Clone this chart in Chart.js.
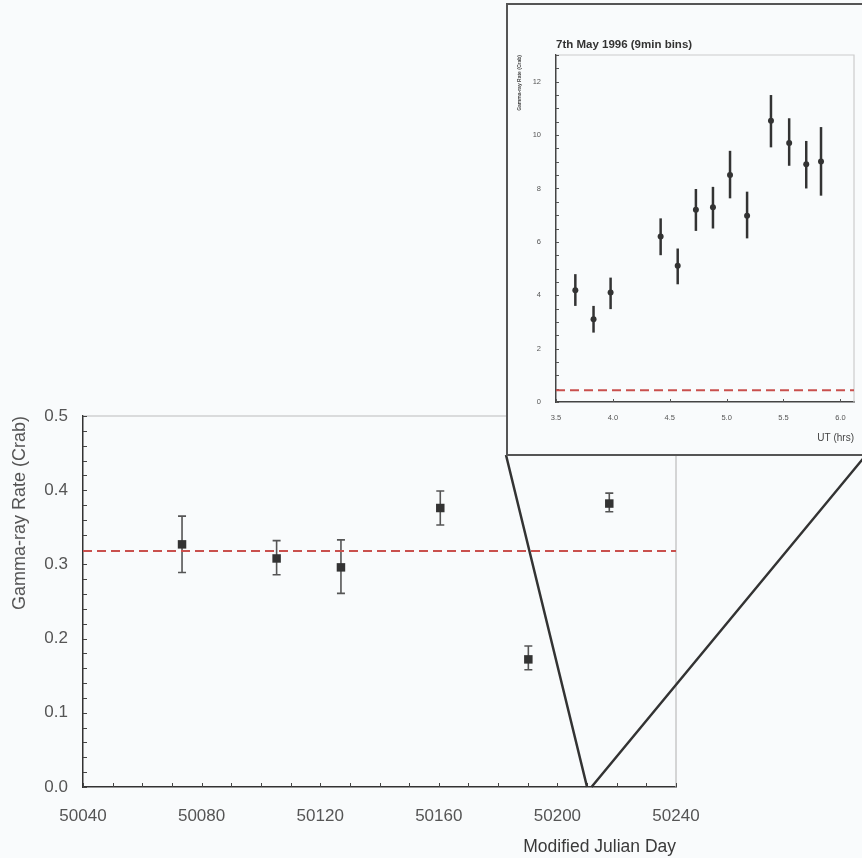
<!DOCTYPE html>
<html lang="en">
<head>
<meta charset="UTF-8">
<title>Gamma-ray Rate vs Modified Julian Day</title>
<style>
    html, body { margin: 0; padding: 0; width: 862px; height: 858px; overflow: hidden; background: #f9fbfc; }
    #main { position: absolute; left: 0; top: 0; }
    #inset {
        position: absolute; left: 506px; top: 3px;
        width: 360px; height: 453px;
        box-sizing: border-box;
        border: 2px solid #555;
        background: #f9fbfc;
    }
    #insetChart { position: absolute; left: 0; top: 0; }
</style>
<script src="https://cdn.jsdelivr.net/npm/chart.js"></script>
</head>
<body>
<canvas id="main" width="862" height="858"></canvas>
<div id="inset"><canvas id="insetChart" width="356" height="449"></canvas></div>
<script>
// main panel: nightly rates
const mjdDays    = [50073.4, 50105.3, 50127.0, 50160.5, 50190.2, 50217.5];
const mjdRates   = [0.327, 0.308, 0.296, 0.376, 0.172, 0.382];
const mjdErrHigh = [0.365, 0.332, 0.333, 0.399, 0.190, 0.396];
const mjdErrLow  = [0.289, 0.286, 0.261, 0.353, 0.158, 0.371];
const mainBaseline = 0.318;
const mainXTicks = [50040, 50080, 50120, 50160, 50200, 50240];
const mainYTicks = [0.0, 0.1, 0.2, 0.3, 0.4, 0.5];
const zoomDays = [50210.0, 50211.5];   // where the inset is pinned on the MJD axis

// inset: 7th May 1996, 9 min bins
const utHours   = [3.67, 3.83, 3.98, 4.42, 4.57, 4.73, 4.88, 5.03, 5.18, 5.39, 5.55, 5.70, 5.83];
const utRates   = [4.19, 3.10, 4.10, 6.20, 5.10, 7.20, 7.30, 8.50, 6.98, 10.54, 9.70, 8.91, 9.01];
const utErrHigh = [4.79, 3.60, 4.66, 6.88, 5.75, 7.98, 8.06, 9.41, 7.88, 11.50, 10.63, 9.78, 10.30];
const utErrLow  = [3.60, 2.60, 3.48, 5.50, 4.41, 6.41, 6.50, 7.63, 6.13, 9.54, 8.85, 8.00, 7.73];
const insetBaseline = 0.44;
const insetXTicks = [3.5, 4.0, 4.5, 5.0, 5.5, 6.0];
const insetYTicks = [0, 2, 4, 6, 8, 10, 12];

Chart.defaults.font.family = '"Liberation Sans", Arial, sans-serif';
Chart.defaults.animation = false;

function toPoints(xs, ys) {
    return xs.map((x, i) => ({ x: x, y: ys[i] }));
}

function fixedTicks(values) {
    return scale => { scale.ticks = values.map(v => ({ value: v })); };
}

// vertical error bars, optional caps
function makeErrorBars(xs, lows, highs, style) {
    return {
        id: 'errorBars',
        beforeDatasetsDraw(chart) {
            const { ctx, scales: { x, y } } = chart;
            ctx.save();
            ctx.strokeStyle = style.color;
            ctx.lineWidth = style.width;
            xs.forEach((v, i) => {
                const px = x.getPixelForValue(v);
                const top = y.getPixelForValue(highs[i]);
                const bot = y.getPixelForValue(lows[i]);
                ctx.beginPath();
                ctx.moveTo(px, top);
                ctx.lineTo(px, bot);
                if (style.cap) {
                    ctx.moveTo(px - style.cap, top); ctx.lineTo(px + style.cap, top);
                    ctx.moveTo(px - style.cap, bot); ctx.lineTo(px + style.cap, bot);
                }
                ctx.stroke();
            });
            ctx.restore();
        }
    };
}

// light top/right frame and small inward ticks
function makeFrame(style) {
    return {
        id: 'frame',
        beforeDatasetsDraw(chart) {
            const { ctx, chartArea: a, scales: { x, y } } = chart;
            ctx.save();
            ctx.strokeStyle = style.frameColor;
            ctx.lineWidth = 1.2;
            ctx.beginPath();
            ctx.moveTo(a.left, a.top); ctx.lineTo(a.right, a.top); ctx.lineTo(a.right, a.bottom);
            ctx.stroke();

            ctx.strokeStyle = style.tickColor;
            ctx.lineWidth = 1;
            ctx.beginPath();
            for (let v = y.min; v <= y.max + 1e-9; v += style.stepY) {
                const py = Math.round(y.getPixelForValue(v)) + 0.5;
                ctx.moveTo(a.left, py); ctx.lineTo(a.left + style.len, py);
            }
            for (let v = x.min; v <= x.max + 1e-9; v += style.stepX) {
                const px = Math.round(x.getPixelForValue(v)) + 0.5;
                ctx.moveTo(px, a.bottom); ctx.lineTo(px, a.bottom - style.len);
            }
            ctx.stroke();
            ctx.restore();
        }
    };
}

// the two lines joining the inset box to the zoomed day
const connectorPlugin = {
    id: 'connector',
    afterDraw(chart) {
        const { ctx, scales: { x, y } } = chart;
        const box = document.getElementById('inset');
        const boxLeft = box.offsetLeft;
        const boxRight = box.offsetLeft + box.offsetWidth;
        const boxBottom = box.offsetTop + box.offsetHeight - 1;
        const y0 = y.getPixelForValue(0);
        ctx.save();
        ctx.strokeStyle = '#333';
        ctx.lineWidth = 2.5;
        ctx.beginPath();
        ctx.moveTo(boxLeft, boxBottom);
        ctx.lineTo(x.getPixelForValue(zoomDays[0]), y0);
        ctx.moveTo(boxRight, boxBottom);
        ctx.lineTo(x.getPixelForValue(zoomDays[1]), y0);
        ctx.stroke();
        ctx.restore();
    }
};

// main chart
new Chart(document.getElementById('main'), {
    type: 'scatter',
    data: {
        datasets: [
            {
                data: toPoints(mjdDays, mjdRates),
                pointStyle: 'rect',
                pointRadius: 6,
                backgroundColor: '#333',
                borderColor: '#333',
                borderWidth: 0
            },
            {
                data: [{ x: mainXTicks[0], y: mainBaseline }, { x: mainXTicks[mainXTicks.length - 1], y: mainBaseline }],
                showLine: true,
                pointRadius: 0,
                borderColor: '#c9504d',
                borderWidth: 2,
                borderDash: [9, 5]
            }
        ]
    },
    options: {
        responsive: false,
        events: [],
        layout: { padding: { top: 416, right: 186, left: 0, bottom: 0 } },
        plugins: { legend: { display: false }, tooltip: { enabled: false } },
        scales: {
            x: {
                type: 'linear',
                min: 50040, max: 50240,
                afterBuildTicks: fixedTicks(mainXTicks),
                afterFit: s => { s.height = 71; },
                grid: { display: false, drawTicks: false },
                border: { color: '#333', width: 1.5 },
                ticks: { font: { size: 17 }, color: '#555', padding: 19, callback: v => String(v) },
                title: {
                    display: true, text: 'Modified Julian Day', align: 'end',
                    font: { size: 17.5 }, color: '#3a3a3a', padding: { top: 0, bottom: 0 }
                }
            },
            y: {
                min: 0, max: 0.5,
                afterBuildTicks: fixedTicks(mainYTicks),
                afterFit: s => { s.width = 83; },
                grid: { display: false, drawTicks: false },
                border: { color: '#333', width: 1.5 },
                ticks: { font: { size: 17 }, color: '#555', padding: 15, callback: v => v.toFixed(1) },
                title: {
                    display: true, text: 'Gamma-ray Rate (Crab)', align: 'end',
                    font: { size: 18 }, color: '#555', padding: { top: 9, bottom: 0 }
                }
            }
        }
    },
    plugins: [
        makeFrame({ frameColor: '#bbb', tickColor: '#444', stepX: 10, stepY: 0.02, len: 4 }),
        makeErrorBars(mjdDays, mjdErrLow, mjdErrHigh, { color: '#555', width: 1.6, cap: 4 }),
        connectorPlugin
    ]
});

// inset chart
new Chart(document.getElementById('insetChart'), {
    type: 'scatter',
    data: {
        datasets: [
            {
                data: toPoints(utHours, utRates),
                pointStyle: 'circle',
                pointRadius: 3,
                backgroundColor: '#333',
                borderWidth: 0
            },
            {
                data: [{ x: 3.5, y: insetBaseline }, { x: 6.12, y: insetBaseline }],
                showLine: true,
                pointRadius: 0,
                borderColor: '#c9504d',
                borderWidth: 2,
                borderDash: [9, 5]
            }
        ]
    },
    options: {
        responsive: false,
        events: [],
        layout: { padding: { top: 0, right: 10, left: 0, bottom: 0 } },
        plugins: {
            legend: { display: false },
            tooltip: { enabled: false },
            title: {
                display: true, text: '7th May 1996 (9min bins)', align: 'start', fullSize: false,
                font: { size: 11.5, weight: 'bold' }, color: '#333',
                padding: { top: 33.1, bottom: 3.1 }
            }
        },
        scales: {
            x: {
                type: 'linear',
                min: 3.5, max: 6.12,
                afterBuildTicks: fixedTicks(insetXTicks),
                afterFit: s => { s.height = 52; },
                grid: { display: false, drawTicks: false },
                border: { color: '#444', width: 1.5 },
                ticks: { font: { size: 7.5 }, color: '#555', padding: 11.5, callback: v => v.toFixed(1) },
                title: {
                    display: true, text: 'UT (hrs)', align: 'end',
                    font: { size: 10 }, color: '#444', padding: { top: 0, bottom: 10 }
                }
            },
            y: {
                min: 0, max: 13,
                afterBuildTicks: fixedTicks(insetYTicks),
                afterFit: s => { s.width = 48; },
                grid: { display: false, drawTicks: false },
                border: { color: '#444', width: 1.5 },
                ticks: { font: { size: 7.5 }, color: '#555', padding: 15 },
                title: {
                    display: true, text: 'Gamma-ray Rate (Crab)', align: 'end',
                    font: { size: 5, weight: 'bold' }, color: '#444', padding: { top: 9, bottom: 0 }
                }
            }
        }
    },
    plugins: [
        makeFrame({ frameColor: '#ccc', tickColor: '#555', stepX: 0.5, stepY: 0.5, len: 3 }),
        makeErrorBars(utHours, utErrLow, utErrHigh, { color: '#333', width: 2.5, cap: 0 })
    ]
});
</script>
</body>
</html>
